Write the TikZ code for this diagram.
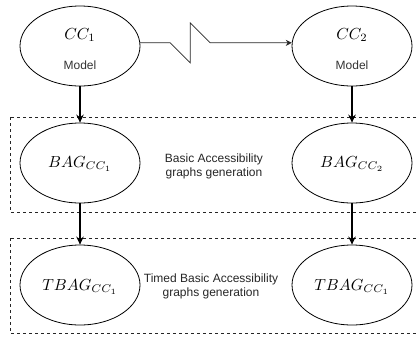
\documentclass[tikz,border=0pt]{standalone}
\usepackage{fontspec}
\setmainfont{Liberation Sans}
\usetikzlibrary{shapes.geometric,arrows.meta}

\begin{document}
\begin{tikzpicture}[x=1pt,y=-1pt,
  blob/.style={draw, ellipse, minimum width=120pt, minimum height=80pt, inner sep=0pt, line width=0.8pt},
  mathlbl/.style={inner sep=0pt, scale=1.6},
  caption/.style={inner sep=0pt, font=\fontsize{12}{14}\selectfont, text=black!80},
  stage/.style={inner sep=0pt, align=center, font=\fontsize{12}{14}\selectfont, text=black!85},
  flow/.style={line width=1.8pt, -{Stealth[length=8pt,width=7.5pt]}},
  link/.style={line width=0.7pt, draw=black!85, -{Stealth[length=6pt,width=6pt]}},
  stagebox/.style={draw=black!85, line width=0.8pt, dash pattern=on 3pt off 3pt}]

\useasboundingbox (0,0) rectangle (417,338);
\clip (0,0) rectangle (417,338);

% dashed frames of the two generation stages
\draw[stagebox] (10,117) rectangle (430,212);
\draw[stagebox] (10,238) rectangle (430,333);

% models
\node[blob] (cc1) at (80,46) {};
\node[mathlbl] (cc1m) at (80,35) {$CC_1$};
\node[caption] (cc1c) at (80,65) {Model};
\node[blob] (cc2) at (352,46) {};
\node[mathlbl] (cc2m) at (352,35) {$CC_2$};
\node[caption] (cc2c) at (352,65) {Model};

% basic accessibility graphs
\node[blob] (bag1) at (80,163) {};
\node[mathlbl] (bag1m) at (80,164) {$BAG_{CC_1}$};
\node[blob] (bag2) at (352,163) {};
\node[mathlbl] (bag2m) at (352,164) {$BAG_{CC_2}$};
\node[stage] (s1) at (214,166) {Basic Accessibility\\graphs generation};

% timed basic accessibility graphs
\node[blob] (tbag1) at (80,285) {};
\node[mathlbl] (tbag1m) at (80,287) {$TBAG_{CC_1}$};
\node[blob] (tbag2) at (352,285) {};
\node[mathlbl] (tbag2m) at (352,287) {$TBAG_{CC_1}$};
\node[stage] (s2) at (211,286) {Timed Basic Accessibility\\graphs generation};

% connectors
\draw[link] (cc1.3) -- ++(30,0) -- ++(20,20) -- ++(0,-40) -- ++(20,20) -- (cc2.177);
\draw[flow] (cc1.south) -- (bag1.north);
\draw[flow] (cc2.south) -- (bag2.north);
\draw[flow] (bag1.south) -- (tbag1.north);
\draw[flow] (bag2.south) -- (tbag2.north);
\end{tikzpicture}
\end{document}
